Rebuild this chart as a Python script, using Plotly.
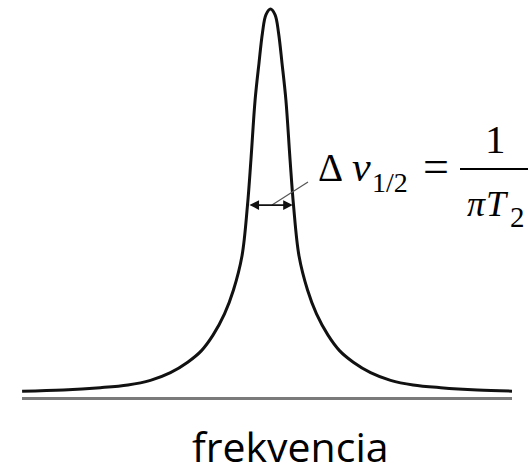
import plotly.graph_objects as go

# Lorentzian line (frequency in units of half-width, intensity normalised)
freq_right = [0.0, 0.2, 0.35, 0.5, 0.67, 0.85, 1.0, 1.24, 1.61, 2.0, 2.5, 3.0, 3.6, 4.35, 5.22, 6.2, 7.4, 9.0, 10.5]
intensity_right = [1.0, 0.985, 0.938, 0.86, 0.764, 0.61, 0.492, 0.36, 0.272, 0.21, 0.155, 0.115, 0.085, 0.058,
                   0.038, 0.026, 0.019, 0.013, 0.010]
freq_left = [-10.8, -9.0, -7.4, -6.2, -5.22, -4.35, -3.6, -3.0, -2.5, -2.0, -1.61, -1.24, -1.0, -0.85, -0.67,
             -0.5, -0.35, -0.2]
intensity_left = [0.010, 0.013, 0.019, 0.026, 0.038, 0.058, 0.085, 0.115, 0.155, 0.21, 0.272, 0.36, 0.492, 0.61,
                  0.764, 0.86, 0.938, 0.985]

freq = freq_left + freq_right
intensity = intensity_left + intensity_right

# half-width marker
fwhm_left, fwhm_right, fwhm_level = -0.98, 0.97, 0.492

x_label = "frekvencia"

W, H = 529, 466
PL, PR, PT, PB = 22, 512, 0, 397


def px_x(px):
    return (px - PL) / (PR - PL)


def px_y(py):
    return (PB - py) / (PB - PT)


fig = go.Figure()
fig.add_trace(go.Scatter(
    x=freq, y=intensity, mode="lines",
    line=dict(color="#111111", width=3, shape="spline", smoothing=1.0),
    hoverinfo="skip", showlegend=False))

serif = "Liberation Serif"
ann = []


def txt(s, cx, baseline, size, italic=False, family=serif):
    # centre of text box sits ~0.34em above baseline for Liberation Serif
    off = 0.3375 if family == serif else 0.388
    t = f"<i>{s}</i>" if italic else s
    ann.append(dict(text=t, x=px_x(cx), y=px_y(baseline - off * size), xref="paper", yref="paper",
                    xanchor="center", yanchor="middle", showarrow=False,
                    font=dict(family=family, size=size, color="#000000")))


txt("Δ", 330, 181, 39)
txt("ν", 361, 181, 42, italic=True)
txt("1/2", 390, 192, 28)
txt("=", 435.5, 182, 46)
txt("1", 495, 153, 41)
txt("π", 476, 216, 36, italic=True)
txt("T", 497, 216, 36, italic=True)
txt("2", 517, 227, 29)
txt(x_label, 290, 462, 41, family="Open Sans")

# double-headed arrow across the half width
ann.append(dict(x=fwhm_right, y=fwhm_level, xref="x", yref="y",
                ax=fwhm_left, ay=fwhm_level, axref="x", ayref="y",
                text="", showarrow=True, arrowhead=2, startarrowhead=2, arrowside="end+start",
                arrowsize=1.2, arrowwidth=1.6, arrowcolor="#111111", standoff=0, startstandoff=0))

shapes = [
    # fraction bar
    dict(type="line", xref="paper", yref="paper", x0=px_x(460), x1=px_x(528), y0=px_y(169), y1=px_y(169),
         line=dict(color="#000000", width=2)),
    # leader line
    dict(type="line", xref="paper", yref="paper", x0=px_x(272), x1=px_x(308), y0=px_y(205), y1=px_y(182),
         line=dict(color="#555555", width=1.2)),
]

fig.update_layout(
    width=W, height=H,
    margin=dict(l=PL, r=W - PR, t=PT, b=H - PB),
    paper_bgcolor="white", plot_bgcolor="white",
    xaxis=dict(range=[(PL - 270.5) / 23, (PR - 270.5) / 23], showgrid=False, zeroline=False,
               showticklabels=False, ticks="", showline=True, linecolor="#7a7a7a", linewidth=2.5),
    yaxis=dict(range=[(395 - PB) / 386, (395 - PT) / 386], showgrid=False, zeroline=False,
               showticklabels=False, ticks="", showline=False),
    annotations=ann, shapes=shapes,
)

fig.write_html("out.html", config={"displayModeBar": False},
               post_script="document.body.style.margin='0';document.body.style.overflow='hidden';")
